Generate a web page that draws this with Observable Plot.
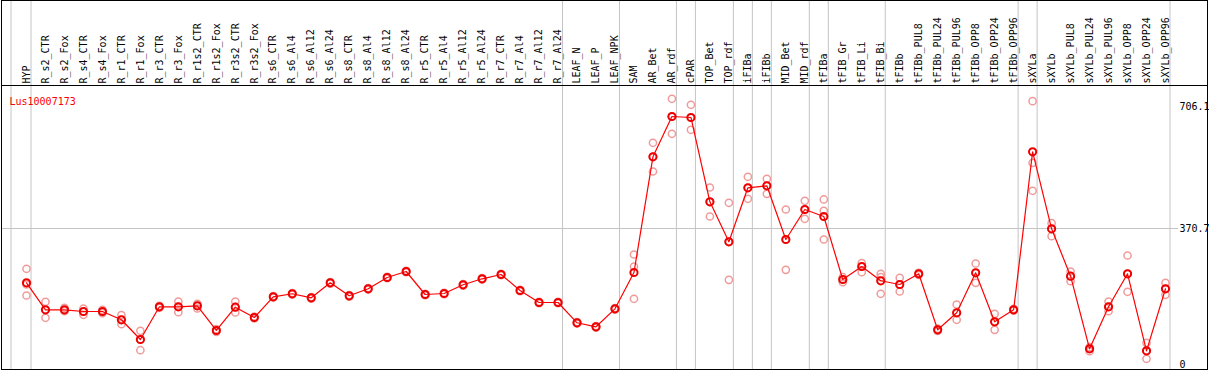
<!DOCTYPE html>
<html>
<head>
<meta charset="utf-8">
<script src="https://cdn.jsdelivr.net/npm/d3@7"></script>
<script src="https://cdn.jsdelivr.net/npm/@observablehq/plot@0.6"></script>
<style>
  html, body { margin: 0; padding: 0; background: #fff; }
  svg { display: block; }
</style>
</head>
<body>
<div id="chart"></div>
<script>
const geneLabel = "Lus10007173";

const categories = [
  "HYP","R_s2_CTR","R_s2_Fox","R_s4_CTR","R_s4_Fox","R_r1_CTR","R_r1_Fox","R_r3_CTR","R_r3_Fox",
  "R_r1s2_CTR","R_r1s2_Fox","R_r3s2_CTR","R_r3s2_Fox","R_s6_CTR","R_s6_Al4","R_s6_Al12","R_s6_Al24",
  "R_s8_CTR","R_s8_Al4","R_s8_Al12","R_s8_Al24","R_r5_CTR","R_r5_Al4","R_r5_Al12","R_r5_Al24",
  "R_r7_CTR","R_r7_Al4","R_r7_Al12","R_r7_Al24","LEAF_N","LEAF_P","LEAF_NPK","SAM","AR_Bet","AR_rdf",
  "cPAR","TOP_Bet","TOP_rdf","iFIBa","iFIBb","MID_Bet","MID_rdf","tFIBa","tFIB_Gr","tFIB_Li","tFIB_Bi",
  "tFIBb","tFIBb_PUL8","tFIBb_PUL24","tFIBb_PUL96","tFIBb_OPP8","tFIBb_OPP24","tFIBb_OPP96",
  "sXYLa","sXYLb","sXYLb_PUL8","sXYLb_PUL24","sXYLb_PUL96","sXYLb_OPP8","sXYLb_OPP24","sXYLb_OPP96"
];

const means = [
  226.2,154.4,154.4,149.9,149.9,127.8,75.3,162.4,162.4,165.0,99.3,161.3,133.9,
  189.0,197.0,186.3,226.2,191.6,210.3,240.3,256.3,195.1,197.8,220.9,236.9,248.3,205.7,173.8,173.8,
  119.8,109.1,157.0,253.7,561.6,668.9,666.2,441.8,335.4,479.1,484.4,341.5,421.3,402.7,
  235.0,269.6,231.6,221.7,250.2,101.1,146.4,252.9,122.4,154.4,
  574.9,370.0,243.8,50.6,162.4,250.2,45.2,210.3
];

const rep1 = [
  263.5,175.7,159.7,157.8,154.4,140.0,98.5,165.0,176.5,170.3,102.7,176.5,136.5,
  191.0,199.0,188.3,228.2,193.6,212.3,242.3,258.3,197.1,199.8,222.9,238.9,250.3,207.7,175.8,175.8,
  121.8,111.1,159.0,301.6,598.9,716.0,700.0,479.9,439.2,508.4,503.1,421.3,444.5,448.0,
  241.1,278.4,250.2,239.5,253.0,104.0,168.5,277.6,143.7,157.0,
  709.6,384.9,256.3,54.8,176.5,298.9,66.5,226.2
];

const rep2 = [
  221.7,154.4,154.4,149.9,149.9,127.8,75.3,162.4,162.4,165.0,99.3,161.3,133.9,
  189.0,197.0,186.3,226.2,191.6,210.3,240.3,256.3,195.1,197.8,220.9,236.9,248.3,205.7,173.8,173.8,
  119.8,109.1,157.0,269.6,561.6,668.9,666.2,441.8,335.4,479.1,484.4,341.5,421.3,417.9,
  235.0,269.6,241.1,221.7,250.2,101.1,146.4,252.9,122.4,154.4,
  545.6,370.0,243.8,50.6,162.4,250.2,45.2,210.3
];

const rep3 = [
  192.4,133.1,150.7,141.1,145.3,116.0,46.8,159.7,148.0,157.8,95.8,147.2,131.2,
  187.0,195.0,184.3,224.2,189.6,208.3,238.3,254.3,193.1,195.8,218.9,234.9,246.3,203.7,171.8,171.8,
  117.8,107.1,155.0,183.7,522.5,622.8,633.5,402.7,234.2,449.8,463.1,260.8,396.6,341.5,
  227.8,254.5,197.0,203.1,247.0,98.0,127.8,226.2,101.1,152.0,
  471.1,350.3,230.5,44.2,150.7,202.3,24.0,194.3
];

const separators = [
  "HYP","R_r7_Al24","LEAF_NPK","AR_rdf","cPAR","TOP_rdf","iFIBa","iFIBb",
  "MID_rdf","tFIBa","tFIB_Bi","tFIBb_OPP96","sXYLa","sXYLb_OPP96"
];

const yTicks = [706.1, 370.7, 0];
const yTickAnchors = ["top", "middle", "bottom"];

const rows = categories.map((c, i) => ({cat: c, mean: means[i]}));
const reps = [];
categories.forEach((c, i) => {
  [rep1[i], rep2[i], rep3[i]].forEach(v => reps.push({cat: c, value: v}));
});

const grey = "#c4c4c4";

const chart = Plot.plot({
  width: 1209,
  height: 370,
  marginLeft: 1,
  marginRight: 31,
  marginTop: 0,
  marginBottom: 1,
  style: {fontFamily: "'DejaVu Sans Mono', monospace", fontSize: "10px", background: "#fff"},
  x: {type: "point", domain: categories, range: [26, 1165], padding: 0, axis: null},
  y: {type: "linear", domain: [0, 706.1], range: [367.3, 102], axis: null},
  marks: [
    Plot.ruleY([370.7], {stroke: grey, strokeWidth: 1}),
    Plot.ruleX(separators, {x: d => d, dx: 4.5, stroke: grey, strokeWidth: 1}),
    Plot.ruleX(["HYP"], {x: d => d, dx: -15.5, stroke: grey, strokeWidth: 1}),
    Plot.frame({stroke: "black", insetRight: -29}),
    Plot.frame({stroke: "black", insetRight: -29, insetBottom: 284}),
    Plot.text(categories, {
      x: d => d, frameAnchor: "top", dy: 83, rotate: -90,
      textAnchor: "start", lineAnchor: "middle", fill: "black"
    }),
    Plot.text([geneLabel], {
      text: d => d, frameAnchor: "top-left", dx: 8, dy: 97,
      textAnchor: "start", fill: "#ff0000"
    }),
    ...yTicks.map((t, i) => Plot.text([t], {
      y: d => d, text: d => String(d), frameAnchor: "right", dx: 1,
      textAnchor: "start", lineAnchor: yTickAnchors[i], fill: "black"
    })),
    Plot.dot(reps, {x: "cat", y: "value", r: 3.6, stroke: "#f09a9a", strokeWidth: 1.5, fill: "none"}),
    Plot.line(rows, {x: "cat", y: "mean", stroke: "#ff0000", strokeWidth: 1.2}),
    Plot.dot(rows, {x: "cat", y: "mean", r: 3.6, stroke: "#ee0000", strokeWidth: 2, fill: "none"})
  ]
});

document.getElementById("chart").appendChild(chart);
</script>
</body>
</html>
